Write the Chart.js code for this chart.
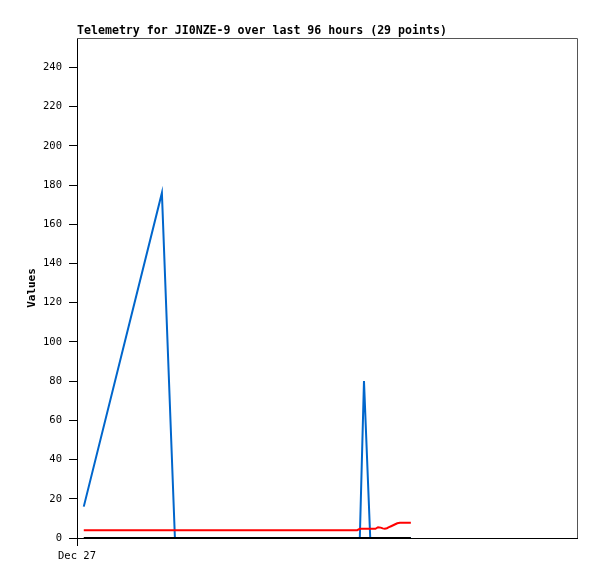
<!DOCTYPE html>
<html>
<head>
<meta charset="utf-8">
<script src="https://cdn.jsdelivr.net/npm/chart.js@4.4.1/dist/chart.umd.min.js"></script>
<style>
  body { margin: 0; background: #fff; }
  #wrap { width: 597px; height: 579px; }
</style>
</head>
<body>
<div id="wrap"><canvas id="telemetryChart" width="597" height="579"></canvas></div>
<script>
// hours since Dec 27 00:00
const hours = [1.3, 16.3, 18.8, 25, 32, 40, 47, 53.8, 54.3, 55.1, 56.3, 56.8, 57.3, 57.8, 58.3,
  58.7, 59.1, 59.5, 59.9, 60.3, 60.7, 61.1, 61.5, 62.0, 62.4, 62.8, 63.2, 63.6, 64.1];
const blueValues = [16, 176, 0, 0, 0, 0, 0, 0, 0, 80, 0, 0, 0, 0, 0,
  0, 0, 0, 0, 0, 0, 0, 0, 0, 0, 0, 0, 0, 0];
const redValues = [4, 4, 4, 4, 4, 4, 4, 4, 4.7, 4.7, 4.7, 4.7, 4.7, 5.5, 5.3,
  4.9, 4.7, 5.0, 5.5, 6.0, 6.5, 7.0, 7.5, 7.8, 7.8, 7.8, 7.8, 7.8, 7.8];
const blackValues = [0, 0, 0, 0, 0, 0, 0, 0, 0, 0, 0, 0, 0, 0, 0,
  0, 0, 0, 0, 0, 0, 0, 0, 0, 0, 0, 0, 0, 0];

const xTickHours = [0];
const xTickLabels = ['Dec 27'];
const yTicks = [0, 20, 40, 60, 80, 100, 120, 140, 160, 180, 200, 220, 240];

const titleText = 'Telemetry for JI0NZE-9 over last 96 hours (29 points)';
const monoFont = '"DejaVu Sans Mono", "Liberation Mono", monospace';

function toPoints(vals) {
  return vals.map((v, i) => ({ x: hours[i], y: v }));
}

// box round the plot + title at the top left
const frame = {
  id: 'frame',
  afterDraw(chart) {
    const { ctx, chartArea } = chart;
    ctx.save();
    ctx.strokeStyle = '#555';
    ctx.lineWidth = 1;
    ctx.beginPath();
    ctx.moveTo(chartArea.left, chartArea.top + 0.5);
    ctx.lineTo(chartArea.right + 0.5, chartArea.top + 0.5);
    ctx.lineTo(chartArea.right + 0.5, chartArea.bottom);
    ctx.stroke();
    ctx.fillStyle = '#000';
    ctx.font = 'bold 11.6px ' + monoFont;
    ctx.textAlign = 'left';
    ctx.textBaseline = 'alphabetic';
    ctx.fillText(titleText, chartArea.left, 34);
    ctx.restore();
  }
};

new Chart(document.getElementById('telemetryChart'), {
  type: 'line',
  data: {
    datasets: [
      { data: toPoints(blackValues), borderColor: '#000000', borderWidth: 2 },
      { data: toPoints(redValues), borderColor: '#ff0000', borderWidth: 2 },
      { data: toPoints(blueValues), borderColor: '#0066cc', borderWidth: 2 }
    ]
  },
  options: {
    responsive: false,
    animation: false,
    layout: { padding: { top: 38, right: 20, left: 0, bottom: 0 } },
    elements: { point: { radius: 0 }, line: { tension: 0 } },
    plugins: { legend: { display: false }, tooltip: { enabled: false }, title: { display: false } },
    scales: {
      x: {
        type: 'linear',
        min: 0,
        max: 96,
        afterBuildTicks: (scale) => { scale.ticks = xTickHours.map(v => ({ value: v })); },
        afterFit: (scale) => { scale.height = 41; },
        ticks: {
          autoSkip: false,
          maxRotation: 0,
          padding: 4,
          color: '#000',
          font: { family: monoFont, size: 10.5 }
        ,
          callback: (v) => xTickLabels[xTickHours.indexOf(v)]
        },
        grid: { drawOnChartArea: false, tickLength: 8, color: '#000' },
        border: { color: '#000', width: 1 }
      },
      y: {
        min: 0,
        max: 255,
        afterBuildTicks: (scale) => { scale.ticks = yTicks.map(v => ({ value: v })); },
        afterFit: (scale) => { scale.width = 77; },
        ticks: {
          padding: 7,
          color: '#000',
          font: { family: monoFont, size: 10.5 }
        },
        grid: { drawOnChartArea: false, tickLength: 8, color: '#000' },
        border: { color: '#000', width: 1 },
        title: {
          display: true,
          text: 'Values',
          color: '#000',
          padding: { top: 26, bottom: 0 },
          font: { family: monoFont, size: 11, weight: 'bold' }
        }
      }
    }
  },
  plugins: [frame]
});
</script>
</body>
</html>
